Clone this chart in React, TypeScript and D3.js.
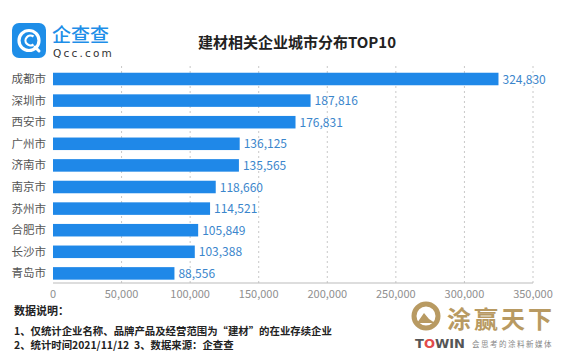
import React from "react";
import * as d3 from "d3";

const cities = ["成都市", "深圳市", "西安市", "广州市", "济南市", "南京市", "苏州市", "合肥市", "长沙市", "青岛市"];
const counts = [324830, 187816, 176831, 136125, 135565, 118660, 114521, 105849, 103388, 88556];
const xTicks = [0, 50000, 100000, 150000, 200000, 250000, 300000, 350000];
const title = "建材相关企业城市分布TOP10";
const noteHead = "数据说明：";
const note1 = "1、仅统计企业名称、品牌产品及经营范围为“建材”的在业存续企业";
const note2a = "2、统计时间2021/11/12";
const note2b = "3、数据来源：企查查";

const W = 565;
const H = 352;
const FONT = "'Noto Sans CJK SC', 'Noto Sans', sans-serif";

export default function App() {
  const x = d3.scaleLinear().domain([0, 350000]).range([53, 533]);
  const y = d3.scaleBand<string>().domain(cities).range([68.2, 284.2]).paddingInner(0.42).paddingOuter(0.21);
  const fmt = d3.format(",");
  const axisY = 283;

  return (
    <svg
      width={W}
      height={H}
      style={{ position: "absolute", left: 0, top: 0, background: "#fff", fontFamily: FONT }}
    >
      <rect x={0} y={0} width={W} height={H} fill="#fff" />
      {/* logo */}
      <g>
        <rect x={12} y={23} width={34} height={35} rx={7} fill="#1e8ee8" />
        <circle cx={29} cy={40.5} r={10} fill="none" stroke="#fff" strokeWidth={3.2} />
        <path d="M 33.5 36.5 A 5 5 0 1 0 33.5 44.5" fill="none" stroke="#fff" strokeWidth={2.2} />
        <line x1={35} y1={47} x2={39} y2={51} stroke="#fff" strokeWidth={3} strokeLinecap="round" />
        <text x={52} y={42} fontSize={19} fill="#1e8ee8" fontWeight={500}>企查查</text>
        <text x={53} y={57} fontSize={10.5} fill="#333" letterSpacing={2.2} fontFamily="'DejaVu Sans', sans-serif">Qcc.com</text>
      </g>
      <text x={297} y={48} textAnchor="middle" fontSize={15} fontWeight={700} fill="#222">{title}</text>

      {/* grid */}
      {xTicks.slice(1).map((t) => (
        <line key={t} x1={x(t)} x2={x(t)} y1={66} y2={axisY} stroke="#c8c8c8" strokeDasharray="2,3" strokeWidth={1} />
      ))}
      <line x1={x(0)} x2={x(350000)} y1={axisY} y2={axisY} stroke="#bbb" strokeWidth={1} />
      {xTicks.map((t) => (
        <text key={t} x={x(t)} y={298} textAnchor="middle" fontSize={11} fill="#8f8f8f">{fmt(t)}</text>
      ))}

      {/* bars */}
      {cities.map((c, i) => {
        const yy = y(c)!;
        const bh = y.bandwidth();
        return (
          <g key={c}>
            <text x={46} y={yy + bh / 2 + 4} textAnchor="end" fontSize={11.5} fill="#555">{c}</text>
            <rect x={x(0)} y={yy} width={x(counts[i]) - x(0)} height={bh} fill="#1f88e8" />
            <text x={x(counts[i]) + 4} y={yy + bh / 2 + 4.5} fontSize={12} fill="#3b86cc">{fmt(counts[i])}</text>
          </g>
        );
      })}

      {/* notes */}
      <text x={14} y={315} fontSize={11} fontWeight={700} fill="#222">{noteHead}</text>
      <text x={14} y={334.5} fontSize={10.4} fontWeight={700} fill="#222">{note1}</text>
      <text x={14} y={349} fontSize={10.4} fontWeight={700} fill="#222">{note2a}</text>
      <text x={134} y={349} fontSize={10.4} fontWeight={700} fill="#222">{note2b}</text>

      {/* TOWIN watermark */}
      <g>
        <circle cx={426} cy={316} r={12} fill="none" stroke="#b89a62" strokeWidth={5} />
        <path d="M 417 323 L 424 313 L 429 319 L 435 323 Z" fill="#b89a62" />
        <text x={447} y={328} fontSize={24} fill="#b89a62" fontWeight={700} letterSpacing={3}>涂赢天下</text>
        <text x={415} y={348} fontSize={13} fontWeight={700} fill="#555" fontFamily="'DejaVu Sans', sans-serif">
          T<tspan fill="#e24b4b">O</tspan>WIN
        </text>
        <text x={472} y={347} fontSize={7.5} fill="#888" letterSpacing={1.5}>会思考的涂料新媒体</text>
      </g>
    </svg>
  );
}
